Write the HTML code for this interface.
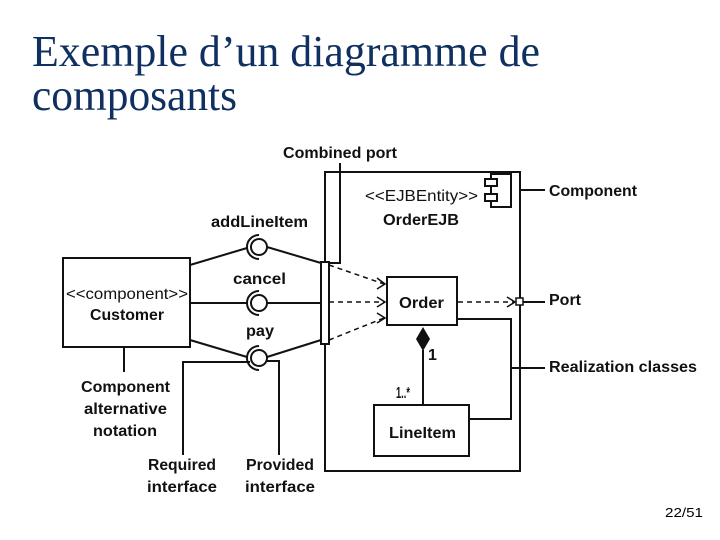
<!DOCTYPE html>
<html><head><meta charset="utf-8"><style>
html,body{margin:0;padding:0;background:#fff;}
svg{display:block;}
.l{font-family:"Liberation Sans Narrow","Liberation Sans",sans-serif;font-weight:bold;font-size:16px;fill:#111;}
.n{font-family:"Liberation Sans Narrow","Liberation Sans",sans-serif;font-size:16px;fill:#111;}
</style></head><body>
<svg width="720" height="540" viewBox="0 0 720 540" xmlns="http://www.w3.org/2000/svg">
<text x="32" y="66" font-family="Liberation Serif,serif" font-size="44" fill="#0f3060" textLength="508" lengthAdjust="spacingAndGlyphs">Exemple d’un diagramme de</text>
<text x="32" y="110" font-family="Liberation Serif,serif" font-size="44" fill="#0f3060" textLength="205" lengthAdjust="spacingAndGlyphs">composants</text>
<text x="665" y="517" font-family="Liberation Sans,sans-serif" font-size="13" fill="#000" textLength="38" lengthAdjust="spacingAndGlyphs">22/51</text>

<g stroke="#111" stroke-width="2" fill="none">
<!-- outer component -->
<rect x="325" y="172" width="195" height="299"/>
<!-- component icon -->
<rect x="491" y="174" width="20" height="33" fill="#fff"/>
<rect x="485" y="179" width="12" height="7" fill="#fff"/>
<rect x="485" y="194" width="12" height="7" fill="#fff"/>
<!-- combined port -->
<rect x="321" y="262" width="8" height="82" fill="#fff"/>
<polyline points="329,263 340,263 340,163"/>
<!-- customer -->
<rect x="63" y="258" width="127" height="89"/>
<line x1="124" y1="347" x2="124" y2="372"/>
<!-- interfaces -->
<line x1="190" y1="265" x2="247" y2="248"/>
<line x1="267" y1="247" x2="321" y2="263"/>
<line x1="190" y1="303" x2="247" y2="303"/>
<line x1="267" y1="303" x2="321" y2="303"/>
<line x1="190" y1="340" x2="247" y2="357"/>
<line x1="267" y1="357" x2="321" y2="340"/>
<circle cx="259" cy="247" r="8"/>
<circle cx="259" cy="303" r="8"/>
<circle cx="259" cy="358" r="8"/>
<path d="M259,235 A12,12 0 0 0 259,259"/>
<path d="M259,291 A12,12 0 0 0 259,315"/>
<path d="M259,346 A12,12 0 0 0 259,370"/>
<polyline points="250,362 183,362 183,455"/>
<polyline points="267,361 279,361 279,455"/>
<!-- order -->
<rect x="387" y="277" width="70" height="48"/>
<rect x="374" y="405" width="95" height="51"/>
<line x1="423" y1="350" x2="423" y2="405"/>
<polyline points="457,319 511,319 511,419 469,419"/>
<line x1="511" y1="368" x2="545" y2="368"/>
<line x1="520" y1="190" x2="545" y2="190"/>
<line x1="523" y1="302" x2="545" y2="302"/>
</g>
<polygon points="423,327 430,339 423,351 416,339" fill="#111"/>
<g stroke="#111" stroke-width="1.5" fill="none" stroke-dasharray="5,4">
<line x1="329" y1="265" x2="384" y2="284"/>
<line x1="329" y1="302" x2="384" y2="302"/>
<line x1="329" y1="340" x2="384" y2="318"/>
<line x1="458" y1="302" x2="514" y2="302"/>
</g>
<g stroke="#111" stroke-width="1.5" fill="none">
<polyline points="377,278 385,284 377,289"/>
<polyline points="377,297 385,302 377,307"/>
<polyline points="377,313 385,318 377,323"/>
<polyline points="507,297 515,302 507,307"/>
</g>
<rect x="516" y="298" width="7" height="7" fill="#fff" stroke="#111" stroke-width="1.5"/>

<text class="l" x="283" y="158" textLength="114" lengthAdjust="spacingAndGlyphs">Combined port</text>
<text class="l" x="549" y="196" textLength="88" lengthAdjust="spacingAndGlyphs">Component</text>
<text class="l" x="549" y="305" textLength="32" lengthAdjust="spacingAndGlyphs">Port</text>
<text class="l" x="549" y="372" textLength="148" lengthAdjust="spacingAndGlyphs">Realization classes</text>
<text class="n" x="365" y="201" textLength="113" lengthAdjust="spacingAndGlyphs">&lt;&lt;EJBEntity&gt;&gt;</text>
<text class="l" x="383" y="225" textLength="76" lengthAdjust="spacingAndGlyphs">OrderEJB</text>
<text class="l" x="211" y="227" textLength="97" lengthAdjust="spacingAndGlyphs">addLineItem</text>
<text class="l" x="233" y="284" textLength="53" lengthAdjust="spacingAndGlyphs">cancel</text>
<text class="l" x="246" y="336" textLength="28" lengthAdjust="spacingAndGlyphs">pay</text>
<text class="n" x="66" y="299" textLength="122" lengthAdjust="spacingAndGlyphs">&lt;&lt;component&gt;&gt;</text>
<text class="l" x="90" y="320" textLength="74" lengthAdjust="spacingAndGlyphs">Customer</text>
<text class="l" x="399" y="308" textLength="45" lengthAdjust="spacingAndGlyphs">Order</text>
<text class="l" x="389" y="438" textLength="67" lengthAdjust="spacingAndGlyphs">LineItem</text>
<text class="l" x="428" y="360" font-size="13">1</text>
<text class="l" x="396" y="398" font-size="13" textLength="14" lengthAdjust="spacingAndGlyphs">1..*</text>
<text class="l" x="81" y="392" textLength="89" lengthAdjust="spacingAndGlyphs">Component</text>
<text class="l" x="84" y="414" textLength="83" lengthAdjust="spacingAndGlyphs">alternative</text>
<text class="l" x="93" y="436" textLength="64" lengthAdjust="spacingAndGlyphs">notation</text>
<text class="l" x="148" y="470" textLength="68" lengthAdjust="spacingAndGlyphs">Required</text>
<text class="l" x="147" y="492" textLength="70" lengthAdjust="spacingAndGlyphs">interface</text>
<text class="l" x="246" y="470" textLength="68" lengthAdjust="spacingAndGlyphs">Provided</text>
<text class="l" x="245" y="492" textLength="70" lengthAdjust="spacingAndGlyphs">interface</text>
</svg>
</body></html>
